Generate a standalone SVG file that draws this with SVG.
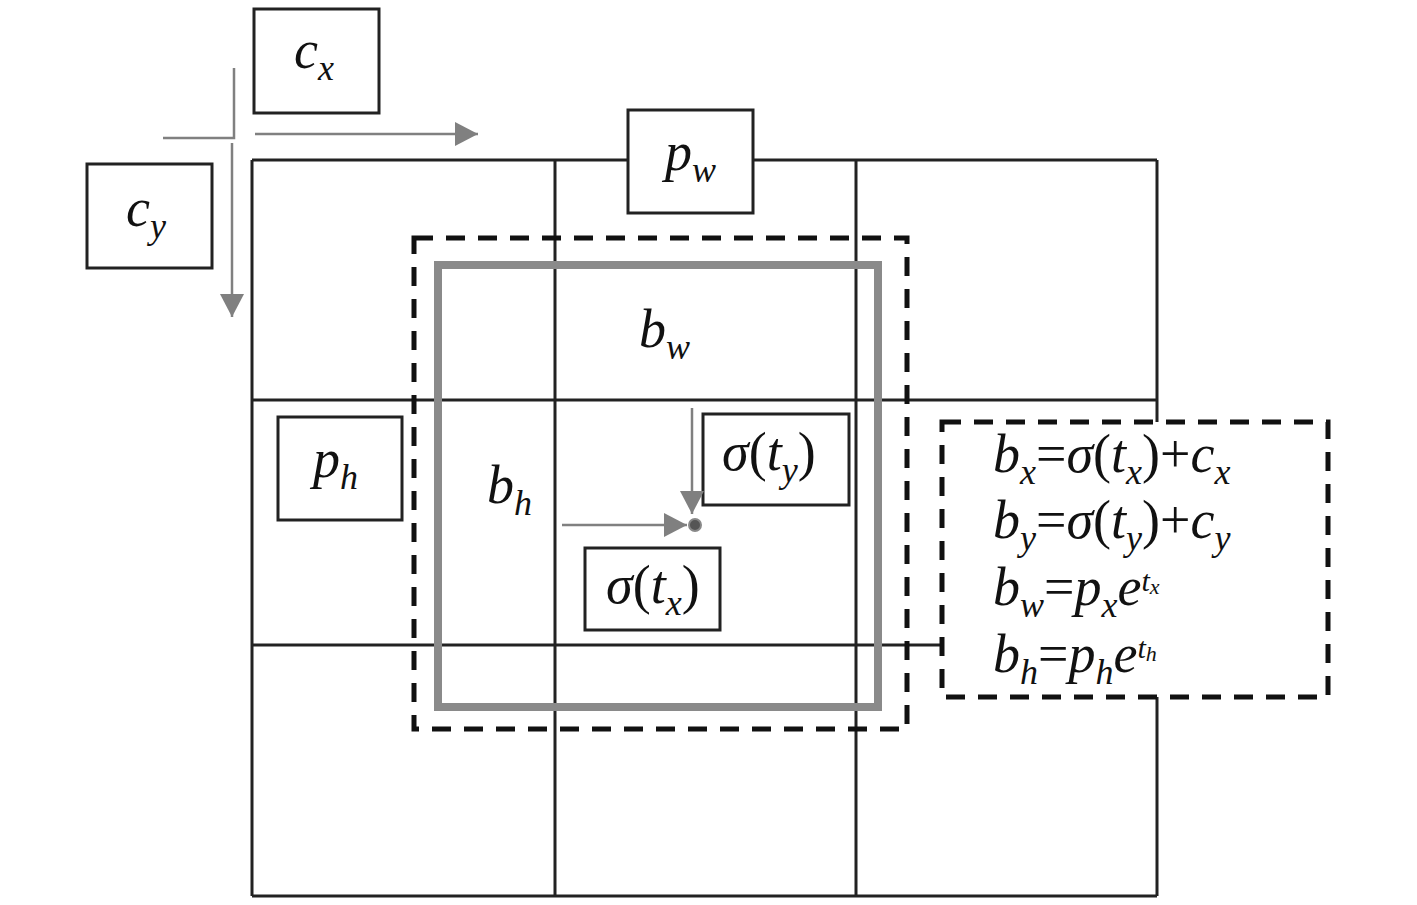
<svg xmlns="http://www.w3.org/2000/svg" width="1417" height="905" viewBox="0 0 1417 905">
<style>
.grid{stroke:#222;stroke-width:3;fill:none}
.box{stroke:#222;stroke-width:3;fill:#fff}
.dash{stroke:#111;stroke-width:5;stroke-dasharray:19 13;fill:none}
.fbox{stroke:#111;stroke-width:5;stroke-dasharray:19 13;fill:#fff}
.gray{stroke:#8a8a8a;stroke-width:8;fill:none}
.conn{stroke:#808080;stroke-width:2.5;fill:none}
text{font-family:"Liberation Serif",serif;font-style:italic;font-size:54px;fill:#111}
.s{font-size:36px}
.sup{font-size:30px}
.ss{font-size:22px}
.u{font-style:normal}
</style>
<defs>
<marker id="ah" markerUnits="userSpaceOnUse" markerWidth="24" markerHeight="24" refX="23" refY="12" orient="auto">
<path d="M0,0 L23,12 L0,24 z" fill="#808080"/>
</marker>
</defs>
<rect width="1417" height="905" fill="#fff"/>
<g id="grid" class="grid">
<line x1="252" y1="160" x2="252" y2="896"/>
<line x1="555" y1="160" x2="555" y2="896"/>
<line x1="856" y1="160" x2="856" y2="896"/>
<line x1="1157" y1="160" x2="1157" y2="896"/>
<line x1="252" y1="160" x2="1157" y2="160"/>
<line x1="252" y1="400" x2="1157" y2="400"/>
<line x1="252" y1="645" x2="1157" y2="645"/>
<line x1="252" y1="896" x2="1157" y2="896"/>
</g>
<g id="predicted-box">
<rect class="gray" x="438" y="265" width="440" height="442"/>
</g>
<g id="anchor-box">
<rect class="dash" x="414" y="238" width="493" height="491"/>
</g>
<g id="formula">
<rect class="fbox" x="942" y="422" width="386" height="275"/>
<text x="993" y="472">b<tspan class="s" dy="12">x</tspan><tspan class="u" dy="-12">=</tspan>σ<tspan class="u">(</tspan>t<tspan class="s" dy="12">x</tspan><tspan class="u" dy="-12">)+</tspan>c<tspan class="s" dy="12">x</tspan></text>
<text x="993" y="538">b<tspan class="s" dy="12">y</tspan><tspan class="u" dy="-12">=</tspan>σ<tspan class="u">(</tspan>t<tspan class="s" dy="12">y</tspan><tspan class="u" dy="-12">)+</tspan>c<tspan class="s" dy="12">y</tspan></text>
<text x="993" y="605">b<tspan class="s" dy="12">w</tspan><tspan class="u" dy="-12">=</tspan>p<tspan class="s" dy="12">x</tspan><tspan dy="-12">e</tspan><tspan class="sup" dy="-14">t</tspan><tspan class="ss" dy="3">x</tspan></text>
<text x="993" y="672">b<tspan class="s" dy="12">h</tspan><tspan class="u" dy="-12">=</tspan>p<tspan class="s" dy="12">h</tspan><tspan dy="-12">e</tspan><tspan class="sup" dy="-14">t</tspan><tspan class="ss" dy="3">h</tspan></text>
</g>
<g id="cx">
<rect class="box" x="254" y="9" width="125" height="104"/>
<text x="294" y="68">c<tspan class="s" dy="12">x</tspan></text>
</g>
<g id="cy">
<rect class="box" x="87" y="164" width="125" height="104"/>
<text x="126" y="226">c<tspan class="s" dy="12">y</tspan></text>
</g>
<g id="pw">
<rect class="box" x="628" y="110" width="125" height="103"/>
<text x="665" y="170">p<tspan class="s" dy="12">w</tspan></text>
</g>
<g id="ph">
<rect class="box" x="278" y="417" width="124" height="103"/>
<text x="313" y="477">p<tspan class="s" dy="12">h</tspan></text>
</g>
<g id="bw">
<text x="639" y="347">b<tspan class="s" dy="12">w</tspan></text>
</g>
<g id="bh">
<text x="487" y="503">b<tspan class="s" dy="12">h</tspan></text>
</g>
<g id="sigma-ty">
<rect class="box" x="703" y="414" width="146" height="91"/>
<text x="722" y="470">σ<tspan class="u">(</tspan>t<tspan class="s" dy="12">y</tspan><tspan class="u" dy="-12">)</tspan></text>
</g>
<g id="sigma-tx">
<rect class="box" x="585" y="548" width="135" height="82"/>
<text x="606" y="603">σ<tspan class="u">(</tspan>t<tspan class="s" dy="12">x</tspan><tspan class="u" dy="-12">)</tspan></text>
</g>
<g id="connectors">
<path class="conn" d="M163,138 L234,138 L234,68"/>
<line class="conn" x1="255" y1="134" x2="478" y2="134" marker-end="url(#ah)"/>
<line class="conn" x1="232" y1="143" x2="232" y2="317" marker-end="url(#ah)"/>
<line class="conn" x1="692" y1="408" x2="692" y2="514" marker-end="url(#ah)"/>
<line class="conn" x1="562" y1="525" x2="687" y2="525" marker-end="url(#ah)"/>
<circle cx="695" cy="525" r="6" fill="#555" stroke="#888" stroke-width="2"/>
</g>
</svg>
